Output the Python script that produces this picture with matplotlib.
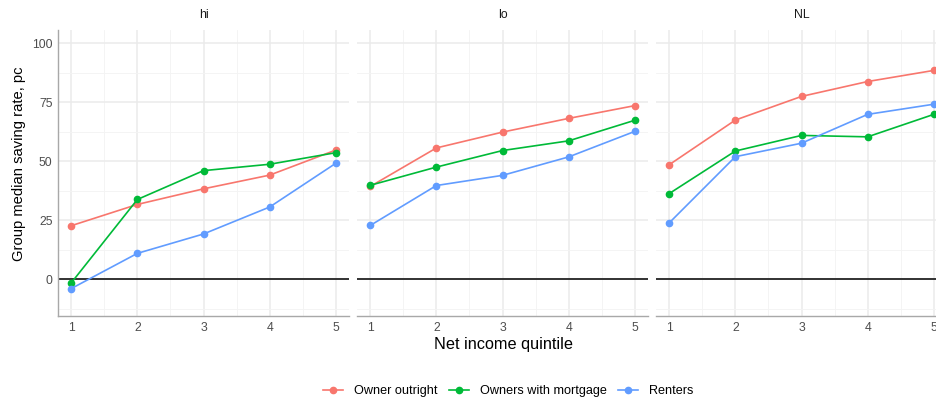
import numpy as np
import matplotlib.pyplot as plt

plt.rcParams['font.family'] = ['Liberation Sans', 'DejaVu Sans']

quintiles = [1, 2, 3, 4, 5]
panels = ['hi', 'lo', 'NL']
groups = ['Owner outright', 'Owners with mortgage', 'Renters']
colors = ['#F8766D', '#00BA38', '#619CFF']

# group median saving rate (pc) per panel, per group
owner_outright = {
    'hi': [22.7, 31.7, 38.3, 44.1, 54.7],
    'lo': [39.3, 55.6, 62.3, 68.1, 73.5],
    'NL': [48.5, 67.4, 77.4, 83.7, 88.4],
}
owners_mortgage = {
    'hi': [-1.5, 33.8, 46.0, 48.7, 53.6],
    'lo': [39.8, 47.5, 54.5, 58.6, 67.3],
    'NL': [36.3, 54.3, 60.9, 60.3, 69.8],
}
renters = {
    'hi': [-3.9, 11.0, 19.2, 30.6, 49.1],
    'lo': [22.8, 39.7, 44.0, 51.8, 62.6],
    'NL': [23.9, 51.9, 57.6, 69.8, 74.1],
}
series = [owner_outright, owners_mortgage, renters]

W, H = 936, 399
fig = plt.figure(figsize=(W / 100, H / 100), dpi=100)

top, bottom = 30, 316
lefts = [58, 357, 656]
pw = 291
axes = []
for i, name in enumerate(panels):
    ax = fig.add_axes([lefts[i] / W, 1 - bottom / H, pw / W, (bottom - top) / H])
    axes.append(ax)
    ax.set_xlim(0.8, 5.2)
    ax.set_ylim(-15.5, 105.5)
    ax.set_xticks(quintiles)
    ax.set_yticks([0, 25, 50, 75, 100])
    ax.set_xticks(np.arange(1.5, 5, 1), minor=True)
    ax.set_yticks([-12.5, 12.5, 37.5, 62.5, 87.5], minor=True)
    ax.grid(which='major', color='#EBEBEB', lw=1.1)
    ax.grid(which='minor', color='#F3F3F3', lw=0.6)
    ax.set_axisbelow(True)
    for s in ['top', 'right', 'left']:
        ax.spines[s].set_visible(False)
    ax.spines['bottom'].set_color('#A8A8A8')
    ax.spines['bottom'].set_linewidth(1.0)
    ax.tick_params(which='both', length=0, labelsize=8.8, labelcolor='#4D4D4D', pad=4)
    if i == 0:
        ax.spines['left'].set_visible(True)
        ax.spines['left'].set_color('#A8A8A8')
        ax.spines['left'].set_linewidth(1.0)
    else:
        ax.set_yticklabels([])
    ax.axhline(0, color='black', lw=1.1, zorder=1.5)
    for k, grp in enumerate(groups):
        ax.plot(quintiles, series[k][name], color=colors[k], lw=1.2,
                marker='o', ms=4.5, label=grp, zorder=3, clip_on=True)
    fig.text((lefts[i] + pw / 2) / W, 1 - 15 / H, name, ha='center', va='center',
             fontsize=8.8, color='#1A1A1A')

fig.text(19 / W, 1 - 164 / H, 'Group median saving rate, pc', rotation=90,
         ha='center', va='center', fontsize=10.6)
fig.text(503 / W, 1 - 345 / H, 'Net income quintile', ha='center', va='center', fontsize=11.7)

handles, labels = axes[0].get_legend_handles_labels()
fig.legend(handles, labels, loc='center', bbox_to_anchor=(508 / W, 1 - 391 / H),
           ncol=3, frameon=False, fontsize=9.1, handlelength=1.6,
           columnspacing=0.9, handletextpad=0.85)

fig.savefig('out.png', dpi=100)
